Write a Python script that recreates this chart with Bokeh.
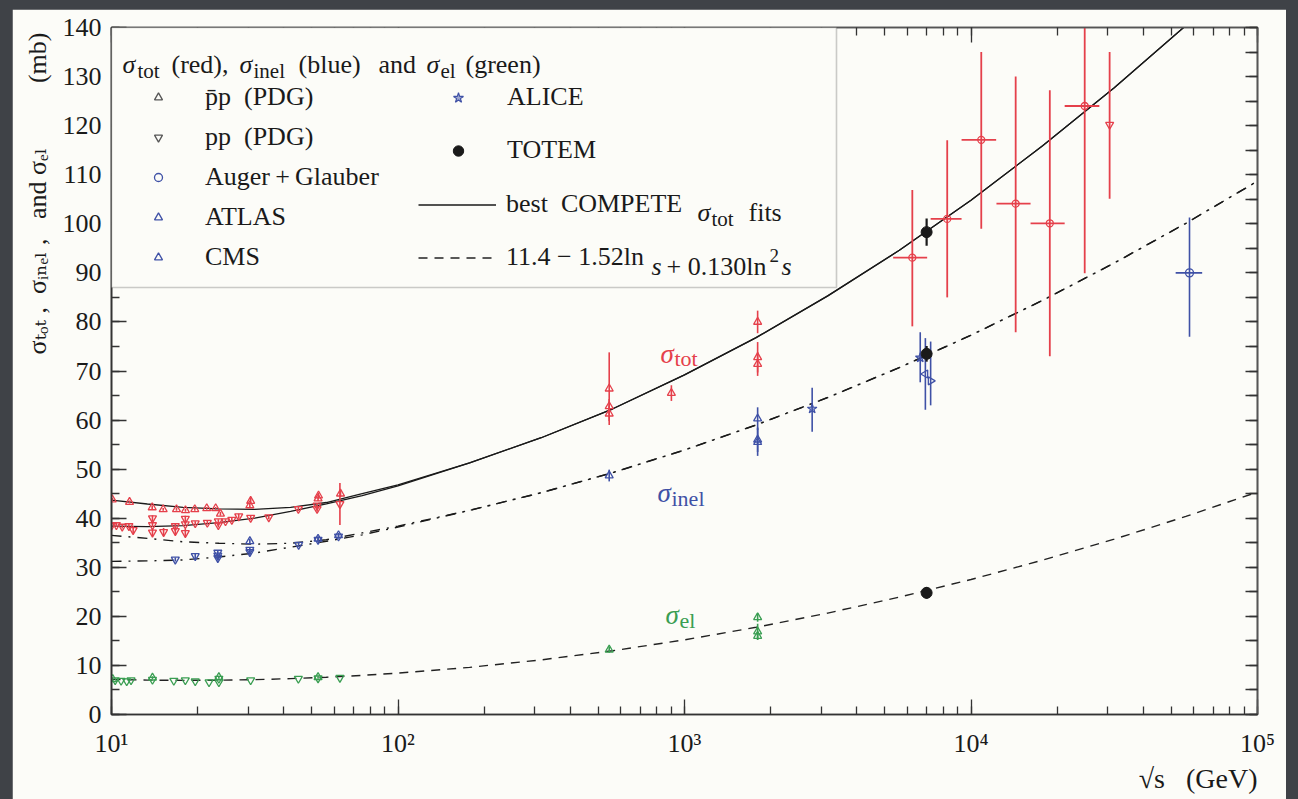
import math
from bokeh.plotting import figure
from bokeh.models import (Label, Legend, LegendItem, LinearAxis, LogAxis, SingleIntervalTicker,
                          LogTicker, BoxAnnotation, Range1d, CustomJSTickFormatter, Title)
from bokeh.layouts import column
from bokeh.embed import file_html
from bokeh.resources import INLINE

# ------------------------------------------------------------------ data
# fitted curves (sqrt(s) in GeV, cross sections in mb)
fit_sqrt_s = [10, 13.34, 17.78, 23.71, 31.62, 42.17, 56.23, 74.99, 100, 177.8, 316.2, 562.3,
              1000, 1778, 3162, 5623, 10000, 17783, 31623, 56234, 100000]
tot_fit_pbarp = [43.7, 42.9, 42.2, 41.9, 41.8, 42.2, 43.2, 45.0, 46.8, 51.3, 56.4, 62.3,
                 69.2, 76.8, 85.3, 94.6, 104.8, 115.9, 127.7, 140.4, 154.0]
tot_fit_pp = [38.4, 38.3, 38.5, 39.1, 40.0, 41.4, 42.9, 44.6, 46.6, 51.3, 56.4, 62.3,
              69.2, 76.8, 85.3, 94.6, 104.8, 115.9, 127.7, 140.4, 154.0]
inel_fit_pbarp = [36.5, 35.9, 35.2, 34.9, 34.7, 34.9, 35.6, 37.0, 38.4, 41.6, 45.2, 49.3,
                  53.9, 59.0, 64.6, 70.7, 77.3, 84.4, 92.0, 100.1, 108.7]
inel_fit_pp = [31.2, 31.3, 31.5, 32.1, 32.9, 34.1, 35.3, 36.6, 38.2, 41.6, 45.2, 49.3,
               53.9, 59.0, 64.6, 70.7, 77.3, 84.4, 92.0, 100.1, 108.7]
el_fit = [7.16, 7.01, 6.96, 6.99, 7.10, 7.31, 7.59, 7.97, 8.43, 9.61, 11.13, 13.0,
          15.21, 17.77, 20.67, 23.92, 27.51, 31.45, 35.73, 40.36, 45.33]

# sigma_tot, pbar-p (PDG)
tot_pbarp_s = [10.06, 11.56, 13.87, 15.15, 16.86, 18.12, 19.53, 21.5, 23.1, 24.0, 30.4, 30.6,
               52.6, 52.8, 63.0, 546, 546, 546, 900, 1800, 1800, 1800]
tot_pbarp = [43.8, 43.3, 42.2, 41.8, 41.8, 41.6, 41.8, 42.0, 42.0, 40.9, 42.6, 43.5,
             44.0, 44.6, 45.0, 66.4, 62.8, 61.3, 65.5, 80.0, 72.8, 71.4]
tot_pbarp_err = [0.3, 0.3, 0.4, 0.3, 0.3, 0.3, 0.3, 0.3, 0.3, 0.4, 0.4, 0.6,
                 0.5, 0.6, 0.7, 7.4, 1.5, 1.5, 1.6, 2.3, 3.1, 2.4]
# sigma_tot, pp (PDG)
tot_pp_s = [10.0, 10.4, 10.9, 11.5, 11.9, 13.9, 13.9, 13.9, 15.2, 16.7, 16.7, 18.1, 18.1, 18.1,
            19.6, 21.6, 23.6, 23.6, 25.0, 26.3, 27.8, 30.6, 35.4, 44.9, 52.2, 52.2, 62.7]
tot_pp = [38.5, 38.6, 38.3, 38.4, 37.6, 38.6, 40.0, 37.1, 37.2, 38.4, 37.4, 38.8, 37.0, 39.9,
          39.0, 39.1, 39.4, 38.6, 39.4, 39.7, 40.4, 40.1, 40.2, 41.9, 42.6, 41.9, 42.9]
tot_pp_err = [0.4, 0.4, 0.4, 0.4, 0.8, 0.4, 0.6, 0.8, 0.8, 0.4, 0.8, 0.4, 0.8, 0.6,
              0.4, 0.4, 0.4, 0.5, 0.4, 0.4, 0.5, 0.4, 0.4, 0.5, 0.5, 0.6, 4.3]
# sigma_tot from cosmic rays (large errors)
cr_s = [6240, 8260, 10860, 14320, 18840, 24940]
cr_s_lo = [5350, 7230, 9270, 12270, 16140, 21230]
cr_s_hi = [7030, 9270, 12240, 16140, 21230, 28050]
cr_tot = [93.1, 101.0, 117.1, 104.1, 100.1, 124.0]
cr_tot_lo = [79.1, 85.0, 99.0, 77.9, 73.0, 89.9]
cr_tot_hi = [106.9, 117.0, 135.0, 130.0, 127.2, 160.0]
cr_pp_s = [30470]
cr_pp_tot = [120.2]
cr_pp_lo = [105.1]
cr_pp_hi = [135.0]

# sigma_inel
inel_pbarp_s = [30.4, 52.6, 62.0, 546, 1800, 1800, 1800]
inel_pbarp = [35.3, 35.8, 36.5, 48.7, 60.3, 56.0, 55.5]
inel_pbarp_err = [0.5, 0.5, 0.5, 1.2, 2.3, 2.5, 2.8]
inel_pp_s = [16.7, 19.6, 23.5, 23.5, 23.5, 30.4, 30.4, 45.0, 52.6, 62.0]
inel_pp = [31.6, 32.3, 32.4, 33.0, 31.9, 33.1, 33.6, 34.6, 35.6, 36.3]
inel_pp_err = [0.4, 0.5, 0.4, 0.5, 0.5, 0.5, 0.5, 0.4, 0.5, 0.5]
auger_s, auger_s_lo, auger_s_hi = [57900], [51800], [64100]
auger_inel, auger_lo, auger_hi = [90.0], [77.0], [101.3]
alice_s, alice_inel, alice_lo, alice_hi = [2790, 6650], [62.3, 72.7], [57.6, 67.7], [66.6, 77.9]
atlas_s, atlas_inel, atlas_lo, atlas_hi = [6930], [69.4], [62.1], [76.7]
cms_s, cms_inel, cms_lo, cms_hi = [7230], [68.0], [63.0], [76.0]

# sigma_el
el_pbarp_s = [10.1, 13.9, 23.7, 52.6, 546, 1800, 1800, 1800]
el_pbarp = [7.2, 7.5, 7.6, 7.6, 13.2, 19.8, 16.9, 16.0]
el_pbarp_err = [0.3, 0.3, 0.3, 0.3, 0.6, 0.9, 1.6, 0.8]
el_pp_s = [10.3, 10.8, 11.3, 11.7, 13.9, 16.5, 18.1, 19.6, 21.9, 23.7, 23.7, 30.6, 44.9, 52.6, 62.7]
el_pp = [7.0, 6.9, 6.8, 7.0, 7.1, 6.9, 7.0, 6.8, 6.6, 7.3, 6.6, 7.0, 7.3, 7.4, 7.5]

# TOTEM (7 TeV): total, inelastic, elastic
totem_s = [7000, 7000, 7000]
totem_val = [98.3, 73.5, 24.8]
totem_err = [2.8, 1.6, 1.2]

NAN = float("nan")   # legend-only keys (nothing is drawn in the plot)
NB = "\u00a0"        # non-breaking space (SVG collapses ordinary runs of spaces)

# ------------------------------------------------------------------ style
RED, BLUE, GREEN, INK = "#e5404b", "#3f51a6", "#3a9e52", "#1a1a1a"
PAPER = "#fcfcf8"
FONT = "Liberation Serif"
FONT_SUB = "Liberation Serif, DejaVu Serif, DejaVu Sans"

W, H = 1274, 790
OX, OY = 12, 9                    # page offset of the white sheet
FL, FR, FT, FB = 111, 1257, 27, 714  # page position of the plot frame

p = figure(width=W, height=H, x_axis_type="log", x_range=Range1d(10, 1e5), y_range=Range1d(0, 140),
           output_backend="svg", toolbar_location=None,
           min_border_left=FL - OX, min_border_right=OX + W - FR,
           min_border_top=FT - OY, min_border_bottom=OY + H - FB)
p.margin = (OY, 0, 0, OX)
p.background_fill_color = PAPER
p.border_fill_color = PAPER
p.grid.visible = False
p.outline_line_color = "#444"
p.outline_line_width = 1.5

sup = CustomJSTickFormatter(code="""
const s = {1:'\u00b9',2:'\u00b2',3:'\u00b3',4:'\u2074',5:'\u2075'};
return '10' + s[Math.round(Math.log10(tick))];
""")
blank = CustomJSTickFormatter(code="return '';")


def style_axis(ax):
    ax.axis_line_color = "#333"
    ax.axis_line_width = 1.7
    ax.major_tick_line_color = "#333"
    ax.minor_tick_line_color = "#333"
    ax.major_tick_line_width = 1.3
    ax.minor_tick_line_width = 1.3
    ax.major_tick_in = 15
    ax.major_tick_out = 0
    ax.minor_tick_in = 8
    ax.minor_tick_out = 0
    ax.major_label_text_font = FONT
    ax.major_label_text_font_size = "26px"
    ax.major_label_text_color = INK


xa = p.xaxis[0]
xa.ticker = LogTicker(num_minor_ticks=10)
xa.formatter = sup
style_axis(xa)
xa.major_label_standoff = 14
ya = p.yaxis[0]
ya.ticker = SingleIntervalTicker(interval=10, num_minor_ticks=2)
style_axis(ya)
ya.major_label_standoff = 10

top = LogAxis(ticker=LogTicker(num_minor_ticks=10), formatter=blank)
style_axis(top)
top.major_label_text_font_size = "0px"
top.axis_line_color = "#555"
p.add_layout(top, "above")
right = LinearAxis(ticker=SingleIntervalTicker(interval=5, num_minor_ticks=1), formatter=blank)
style_axis(right)
right.major_tick_in = 12
right.major_label_text_font_size = "0px"
right.axis_line_color = "#555"
p.add_layout(right, "right")

# axis titles (outside the frame, so as titles in the side panels)
y_title = ("\u03c3\u209c\u2092\u209c" + NB + "," + NB * 2 + "\u03c3\u1d62\u2099\u2091\u2097" + NB + ","
           + NB * 3 + "and" + NB + "\u03c3\u2091\u2097" + NB * 10 + "(mb)")
p.add_layout(Title(text=y_title, align="right", text_font=FONT_SUB, text_font_size="26px",
                   text_font_style="normal", text_color=INK, standoff=15, offset=5), "left")
p.add_layout(Title(text="\u221as" + NB * 3 + "(GeV)", align="right", text_font=FONT, text_font_size="28px",
                   text_font_style="normal", text_color=INK, standoff=0, offset=0), "below")

# ------------------------------------------------------------------ curves
solid1 = p.line(fit_sqrt_s, tot_fit_pbarp, line_color=INK, line_width=1.3)
p.line(fit_sqrt_s, tot_fit_pp, line_color=INK, line_width=1.3)
p.line(fit_sqrt_s, inel_fit_pbarp, line_color=INK, line_width=1.4, line_dash="10 7 2 7")
p.line(fit_sqrt_s, inel_fit_pp, line_color=INK, line_width=1.4, line_dash="10 7 2 7")
dashed = p.line(fit_sqrt_s, el_fit, line_color="#222", line_width=1.4, line_dash="9 7")


# ------------------------------------------------------------------ points
def vbars(xs, ys, errs, color, lw=1.6):
    lo = [y - e for y, e in zip(ys, errs)]
    hi = [y + e for y, e in zip(ys, errs)]
    p.segment(x0=xs, y0=lo, x1=xs, y1=hi, line_color=color, line_width=lw)


def open_pts(xs, ys, marker, color, size=8, angle=0.0):
    return p.scatter(xs, ys, marker=marker, size=size, angle=angle, fill_color=None,
                     line_color=color, line_width=1.3)


vbars(tot_pbarp_s, tot_pbarp, tot_pbarp_err, RED)
vbars(tot_pp_s, tot_pp, tot_pp_err, RED)
p.segment(x0=cr_s, y0=cr_tot_lo, x1=cr_s, y1=cr_tot_hi, line_color=RED, line_width=1.8)
p.segment(x0=cr_s_lo, y0=cr_tot, x1=cr_s_hi, y1=cr_tot, line_color=RED, line_width=1.8)
p.segment(x0=cr_pp_s, y0=cr_pp_lo, x1=cr_pp_s, y1=cr_pp_hi, line_color=RED, line_width=1.8)
vbars(inel_pbarp_s, inel_pbarp, inel_pbarp_err, BLUE)
vbars(inel_pp_s, inel_pp, inel_pp_err, BLUE)
p.segment(x0=auger_s, y0=auger_lo, x1=auger_s, y1=auger_hi, line_color=BLUE, line_width=1.6)
p.segment(x0=auger_s_lo, y0=auger_inel, x1=auger_s_hi, y1=auger_inel, line_color=BLUE, line_width=1.6)
p.segment(x0=alice_s, y0=alice_lo, x1=alice_s, y1=alice_hi, line_color=BLUE, line_width=1.6)
p.segment(x0=atlas_s, y0=atlas_lo, x1=atlas_s, y1=atlas_hi, line_color=BLUE, line_width=1.6)
p.segment(x0=cms_s, y0=cms_lo, x1=cms_s, y1=cms_hi, line_color=BLUE, line_width=1.6)
vbars(el_pbarp_s, el_pbarp, el_pbarp_err, GREEN)
vbars(totem_s, totem_val, totem_err, INK, lw=2.2)

open_pts(tot_pbarp_s, tot_pbarp, "triangle", RED)
open_pts(tot_pp_s, tot_pp, "inverted_triangle", RED)
open_pts(cr_s, cr_tot, "circle", RED, size=7)
open_pts(cr_pp_s, cr_pp_tot, "inverted_triangle", RED)
open_pts(inel_pbarp_s, inel_pbarp, "triangle", BLUE)
open_pts(inel_pp_s, inel_pp, "inverted_triangle", BLUE)
r_auger = open_pts(auger_s, auger_inel, "circle", BLUE, size=8)
r_atlas = open_pts(atlas_s, atlas_inel, "triangle", BLUE, angle=math.pi / 2)
r_cms = open_pts(cms_s, cms_inel, "triangle", BLUE, angle=-math.pi / 2)
r_alice = p.scatter(alice_s, alice_inel, marker="star", size=10, fill_color=BLUE, fill_alpha=0.5,
                    line_color=BLUE, line_width=1.2)
open_pts(el_pbarp_s, el_pbarp, "triangle", GREEN)
open_pts(el_pp_s, el_pp, "inverted_triangle", GREEN)
r_totem = p.scatter(totem_s, totem_val, marker="circle", size=11, fill_color=INK, line_color=INK)

# legend keys in neutral grey for the two PDG sets (no visible point)
k_pbarp = p.scatter(x=[NAN], y=[NAN], marker="triangle", size=8, fill_color=None,
                    line_color="#555", line_width=1.3)
k_pp = p.scatter(x=[NAN], y=[NAN], marker="inverted_triangle", size=8, fill_color=None,
                 line_color="#555", line_width=1.3)


# ------------------------------------------------------------------ legend box + legends
def dx(px):
    return 10 ** (1 + 4 * (px - FL) / (FR - FL))


def dy(py):
    return 140 * (FB - py) / (FB - FT)


p.add_layout(BoxAnnotation(left=10, right=dx(836), bottom=dy(287), top=140,
                           fill_color=PAPER, fill_alpha=1.0, line_color="#555", line_width=1.6))


def make_legend(items, left_px, bottom_px, gw, gh, standoff):
    leg = Legend(items=items, location=(left_px - FL, FB - bottom_px), orientation="vertical",
                 glyph_width=gw, glyph_height=gh, label_height=gh, spacing=0, padding=0, margin=0,
                 label_standoff=standoff, border_line_color=None, background_fill_alpha=0,
                 label_text_font=FONT, label_text_font_size="26px", label_text_color=INK)
    p.add_layout(leg)


make_legend([LegendItem(label="p\u0304p" + NB * 2 + "(PDG)", renderers=[k_pbarp]),
             LegendItem(label="pp" + NB * 2 + "(PDG)", renderers=[k_pp]),
             LegendItem(label="Auger\u2009+\u2009Glauber", renderers=[r_auger]),
             LegendItem(label="ATLAS", renderers=[r_atlas]),
             LegendItem(label="CMS", renderers=[r_cms])],
            148, 277, 20, 40, 37)
make_legend([LegendItem(label="ALICE", renderers=[r_alice]),
             LegendItem(label="TOTEM", renderers=[r_totem])],
            445, 176.5, 26, 53, 36)
make_legend([LegendItem(label="best" + NB * 2 + "COMPETE", renderers=[solid1]),
             LegendItem(label="11.4 \u2212 1.52ln", renderers=[dashed])],
            418, 283.5, 78, 53, 10)


def txt(s, px, py, size=26, style="normal", color=INK, angle=0.0):
    p.add_layout(Label(x=dx(px), y=dy(py), text=s, text_font=FONT, text_font_size=f"{size}px",
                       text_font_style=style, text_color=color, text_baseline="alphabetic",
                       text_align="left", angle=angle))


# legend texts that need sub/superscripts
txt("\u03c3", 697, 212, style="italic")
txt("tot", 711, 218, size=21)
txt("fits", 748, 212)
txt("s", 651, 266, style="italic")
txt("+ 0.130ln", 666, 266)
txt("2", 769, 255, size=19)
txt("s", 781, 266, style="italic")

# header line
txt("\u03c3", 122, 64, style="italic")
txt("tot", 137, 70, size=21)
txt("(red),", 171, 64)
txt("\u03c3", 239, 64, style="italic")
txt("inel", 253, 70, size=21)
txt("(blue)", 298, 64)
txt("and", 378, 64)
txt("\u03c3", 426, 64, style="italic")
txt("el", 440, 70, size=21)
txt("(green)", 465, 64)

# curve labels
txt("\u03c3", 660, 353, size=27, style="italic", color=RED)
txt("tot", 674, 358, size=22, color=RED)
txt("\u03c3", 657, 492, size=27, style="italic", color=BLUE)
txt("inel", 671, 498, size=22, color=BLUE)
txt("\u03c3", 665, 614, size=27, style="italic", color=GREEN)
txt("el", 679, 620, size=22, color=GREEN)

root = column(p, width=1298, height=799, styles={"background-color": "#3f4247"})
html = file_html(root, INLINE)
html = html.replace("<body>", '<body style="margin:0;background:#3f4247;">', 1)
open("out.html", "w").write(html)
